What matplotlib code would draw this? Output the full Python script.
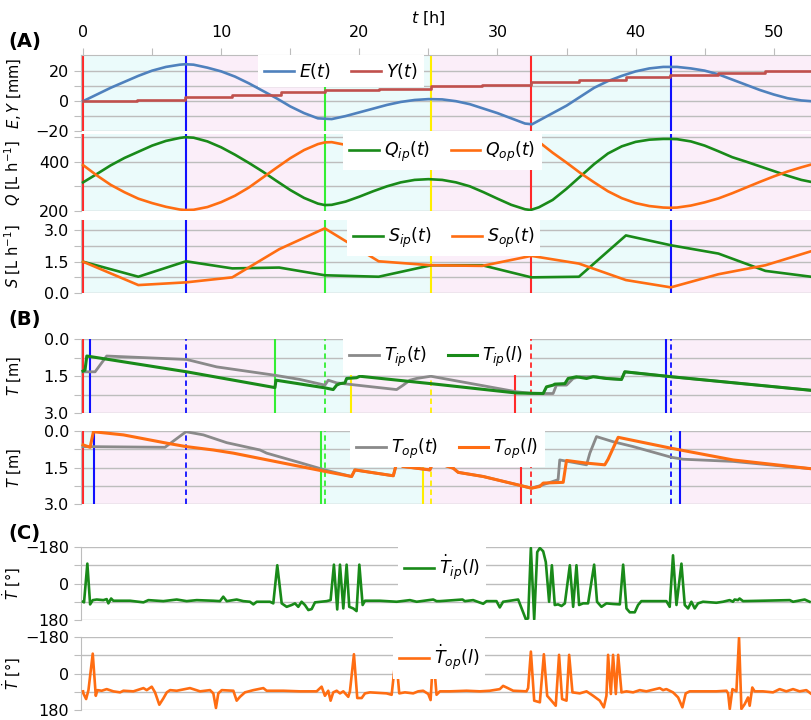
import numpy as np
import matplotlib.pyplot as plt

# ---------------- data ----------------
t_E = [0, 1, 2, 3, 4, 5, 6, 7, 7.4, 8, 9, 10, 11, 12, 13, 14, 15, 16, 17, 18, 19, 20,
       21, 22, 23, 24, 25, 26, 27, 28, 29, 30, 31, 32, 32.5, 33, 34, 35, 36, 37, 38, 39,
       40, 41, 42, 43, 44, 45, 46, 47, 48, 49, 50, 51, 52, 52.7]
E_t = [0, 4.5, 9, 13, 17, 20.5, 23, 24.5, 24.8, 24.5, 22.5, 20, 16.5, 12, 7, 2, -3.5,
       -8, -11.5, -12, -10, -7.5, -5, -2.5, -0.5, 0.8, 1.4, 1.2, 0, -2, -5, -8, -11.5,
       -15, -15.5, -13, -8, -3, 3, 9, 13.5, 17, 20, 22, 23, 23, 22, 20.5, 18, 14.5, 11,
       7.5, 4.5, 2, 0.5, 0]

t_Y = [0, 3.9, 7.4, 10.8, 14.3, 17.5, 21.4, 25.2, 28.9, 32.4, 35.9, 39.3, 42.5, 46.0, 49.4, 52.7]
Y_t = [0, 1, 2.5, 4, 6, 7.5, 8.5, 10, 11, 13, 14.5, 16, 17.5, 19, 20.5, 20.5]

t_Q = [0, 1, 2, 3, 4, 5, 6, 7, 7.4, 8, 9, 10, 11, 12, 13, 14, 15, 16, 17, 17.5, 18, 19,
       20, 21, 22, 23, 24, 25, 26, 27, 28, 29, 30, 31, 32, 32.4, 33, 34, 35, 36, 37, 38,
       39, 40, 41, 42, 42.5, 43, 44, 45, 46, 47, 48, 49, 50, 51, 52, 52.7]
Q_ip = [316, 350, 385, 415, 440, 465, 484, 496, 499, 497, 482, 458, 428, 395, 360, 322,
        285, 253, 230, 224, 225, 238, 258, 280, 300, 316, 326, 329, 326, 316, 300, 276,
        250, 225, 207, 204, 215, 245, 290, 340, 390, 433, 462, 480, 489, 492, 492, 491,
        482, 465, 442, 418, 400, 381, 362, 343, 326, 318]
Q_op = [386, 344, 306, 276, 250, 232, 217, 206, 204, 205, 216, 236, 262, 295, 335, 375,
        414, 447, 471, 478, 479, 468, 448, 425, 405, 389, 380, 377, 380, 390, 405, 425,
        446, 470, 492, 500, 480, 436, 396, 354, 316, 280, 252, 232, 220, 214, 213, 214,
        222, 235, 251, 272, 295, 318, 340, 360, 377, 388]

t_S = [0, 4.0, 7.45, 10.8, 14.2, 17.5, 21.4, 25.2, 28.9, 32.45, 35.9, 39.3, 42.55, 46.0, 49.4, 52.7]
S_ip = [1.5, 0.78, 1.52, 1.18, 1.22, 0.85, 0.78, 1.33, 1.33, 0.75, 0.78, 2.76, 2.29, 1.89, 1.06, 0.78]
S_op = [1.5, 0.38, 0.51, 0.75, 2.1, 3.1, 1.52, 1.33, 1.3, 1.78, 1.41, 0.62, 0.27, 0.9, 1.33, 2.0]

T_ip_t = [(0, 1.33), (0.87, 1.33), (1.71, 0.69), (7.5, 0.83), (9.67, 1.13), (13.89, 1.47),
          (15.7, 1.64), (17.51, 1.87), (17.75, 1.67), (18.36, 1.78), (22.7, 2.05),
          (23.18, 1.87), (23.66, 1.67), (24.14, 1.60), (25.18, 1.51), (31.38, 2.14),
          (32.58, 2.21), (34.03, 2.21), (34.27, 1.87), (35.0, 1.87), (35.48, 1.60),
          (35.96, 1.53), (37.17, 1.53), (37.89, 1.60), (38.98, 1.64), (39.22, 1.33),
          (42.59, 1.53), (52.7, 2.08)]
T_ip_l = [(0, 1.30), (0.14, 1.26), (0.27, 0.69), (7.5, 1.33), (13.89, 1.97), (13.97, 1.67),
          (17.51, 1.98), (18.11, 2.05), (18.36, 1.87), (18.6, 1.81), (18.96, 1.78),
          (19.08, 1.60), (19.8, 1.57), (20.04, 1.51), (25.18, 1.81), (31.38, 2.19),
          (33.31, 2.21), (33.55, 1.94), (34.03, 1.87), (34.15, 1.83), (34.88, 1.81),
          (35.12, 1.60), (35.72, 1.53), (36.45, 1.60), (36.93, 1.53), (37.89, 1.60),
          (38.98, 1.64), (39.22, 1.33), (42.59, 1.53), (52.7, 2.08)]

T_op_t = [(0, 0.64), (5.93, 0.67), (7.45, 0.03), (8.71, 0.16), (10.4, 0.48), (12.81, 0.78),
          (13.29, 0.91), (15.7, 1.30), (17.51, 1.60), (19.44, 1.87), (19.68, 1.60),
          (22.46, 1.84), (22.7, 1.32), (23.18, 1.46), (25.11, 1.60), (25.35, 1.25),
          (26.8, 1.53), (27.16, 1.70), (28.97, 1.87), (31.74, 2.25), (32.46, 2.35),
          (33.07, 2.25), (34.03, 2.07), (34.39, 2.00), (34.51, 1.19), (36.45, 1.39),
          (36.69, 0.91), (37.17, 0.23), (38.37, 0.44), (39.82, 0.64), (42.59, 1.08),
          (43.44, 1.16), (47.06, 1.25), (52.7, 1.55)]
T_op_l = [(0, 0.57), (0.51, 0.67), (0.75, 0.03), (2.92, 0.16), (6.06, 0.50), (7.45, 0.64),
          (9.43, 0.78), (10.88, 0.91), (17.51, 1.66), (19.44, 1.87), (19.68, 1.60),
          (22.46, 1.84), (22.7, 1.32), (23.18, 1.46), (25.11, 1.60), (25.35, 1.25),
          (26.8, 1.53), (27.16, 1.70), (28.97, 1.87), (31.74, 2.25), (32.46, 2.35),
          (33.07, 2.28), (33.31, 2.14), (34.76, 2.11), (35.0, 1.21), (36.45, 1.32),
          (37.77, 1.39), (38.01, 1.16), (38.37, 0.71), (38.74, 0.26), (42.59, 0.71),
          (47.06, 1.19), (52.7, 1.55)]

Tdot_ip = [(0, 90), (0.07, 93), (0.31, -98), (0.51, 103), (0.70, 82), (0.99, 79), (1.47, 82),
           (1.71, 77), (1.83, 98), (2.03, 74), (2.19, 85), (3.40, 85), (4.37, 93), (4.73, 82),
           (5.81, 87), (6.78, 79), (7.50, 87), (8.23, 82), (9.43, 85), (9.91, 87), (10.15, 65),
           (10.40, 87), (11.12, 79), (11.60, 87), (12.08, 90), (12.33, 103), (12.57, 90),
           (13.53, 90), (13.77, 98), (14.06, -90), (14.38, 98), (14.74, 115), (15.10, 106),
           (15.34, 98), (15.58, 115), (15.82, 90), (16.06, 106), (16.31, 131), (16.55, 126),
           (16.79, 93), (17.63, 87), (17.92, 82), (18.16, -93), (18.40, 128), (18.60, -93),
           (18.84, 123), (19.08, -93), (19.27, 115), (19.56, 123), (19.80, 136), (20.00, -93),
           (20.24, 106), (20.41, 85), (21.49, 85), (22.70, 90), (23.66, 82), (24.15, 90),
           (25.35, 79), (25.59, 87), (25.83, 87), (27.47, 79), (27.64, 87), (28.24, 82),
           (28.97, 100), (29.21, 87), (29.93, 87), (30.17, 118), (30.41, 90), (31.50, 79),
           (32.06, 177), (32.22, 172), (32.42, -175), (32.66, 177), (32.88, -155),
           (33.07, -175), (33.31, -159), (33.50, -106), (33.74, 90), (33.94, -90),
           (34.15, 106), (34.39, 103), (34.64, 111), (34.88, 98), (35.24, -90), (35.48, 115),
           (35.72, -90), (35.91, 106), (36.20, 98), (36.56, 98), (37.00, -93), (37.21, 90),
           (37.53, 115), (37.89, 98), (38.37, 101), (38.86, 103), (39.10, -93), (39.34, 123),
           (39.58, 142), (39.94, 142), (40.18, 106), (40.42, 87), (42.23, 87), (42.47, 115),
           (42.71, -139), (42.96, 106), (43.32, -98), (43.56, 106), (43.80, 123), (44.04, 90),
           (44.28, 123), (44.52, 98), (44.88, 90), (45.85, 95), (46.33, 90), (46.81, 82),
           (47.05, 90), (47.17, 79), (47.41, 82), (47.53, 74), (47.78, 87), (51.16, 82),
           (51.40, 90), (52.24, 79), (52.60, 90)]

Tdot_op = [(0, 88), (0.02, 98), (0.22, 126), (0.39, 82), (0.70, -98), (0.92, 110), (1.04, 82),
           (1.35, 85), (1.71, 77), (2.19, 88), (2.68, 93), (2.92, 85), (3.64, 88), (4.37, 72),
           (4.61, 82), (4.97, 65), (5.21, 93), (5.52, 154), (5.81, 123), (6.06, 93), (6.30, 82),
           (6.78, 85), (7.74, 72), (8.47, 88), (9.19, 82), (9.43, 98), (9.62, 170), (9.79, 98),
           (10.04, 82), (10.88, 85), (11.12, 134), (11.36, 115), (11.72, 93), (12.33, 82),
           (13.05, 72), (13.29, 85), (14.50, 85), (15.70, 88), (16.91, 88), (17.27, 65),
           (17.51, 110), (17.75, 85), (17.92, 134), (18.11, 93), (18.36, 85), (18.60, 98),
           (18.84, 88), (19.20, 115), (19.32, 88), (19.61, -95), (19.85, 121), (20.17, 121),
           (20.41, 98), (20.77, 93), (21.97, 98), (22.34, 105), (22.65, -92), (22.89, 98),
           (23.30, 93), (23.90, 98), (24.26, 88), (24.62, 85), (24.99, 101), (25.16, 131),
           (25.35, -95), (25.59, 105), (25.83, 88), (26.56, 88), (27.76, 85), (28.73, 88),
           (29.45, 85), (30.17, 77), (30.41, 61), (30.66, 69), (31.14, 85), (32.10, 88),
           (32.22, 72), (32.42, -108), (32.66, 134), (33.07, 142), (33.36, -95), (33.60, 110),
           (33.91, 134), (34.22, 159), (34.46, -92), (34.68, 126), (35.00, 134), (35.19, -92),
           (35.43, 93), (35.96, 98), (36.45, 88), (36.93, 110), (37.41, 134), (37.70, 167),
           (37.89, 110), (38.01, -92), (38.21, 101), (38.37, -92), (38.57, 101), (38.74, -92),
           (38.98, 93), (39.34, 88), (39.82, 93), (40.30, 82), (40.78, 88), (41.75, 72),
           (41.99, 82), (42.23, 77), (42.71, 93), (43.08, 118), (43.39, 167), (43.63, 98),
           (43.92, 88), (44.65, 88), (45.85, 88), (46.58, 85), (46.70, 98), (46.82, 175),
           (47.01, 77), (47.30, 88), (47.49, -177), (47.66, 175), (47.90, 151), (48.14, 118),
           (48.26, 159), (48.45, 69), (48.62, 88), (49.22, 88), (49.95, 93), (50.43, 77),
           (50.91, 88), (51.40, 77), (51.88, 88), (52.36, 82), (52.67, 98)]

# event lines: (time, colour key, dashed?)
events_A = [(0, 'r', False), (7.45, 'b', False), (17.5, 'g', False), (25.2, 'y', False),
            (32.45, 'r', False), (42.55, 'b', False)]
events_B1 = [(0, 'r', False), (0.5, 'b', False), (7.45, 'b', True), (13.9, 'g', False),
             (17.5, 'g', True), (19.4, 'y', False), (25.2, 'y', True), (31.3, 'r', False),
             (32.45, 'r', True), (42.2, 'b', False), (42.55, 'b', True)]
events_B2 = [(0, 'r', False), (0.8, 'b', False), (7.45, 'b', True), (17.2, 'g', False),
             (17.5, 'g', True), (24.6, 'y', False), (25.2, 'y', True), (31.7, 'r', False),
             (32.45, 'r', True), (42.55, 'b', True), (43.2, 'b', False)]

T_END = 52.7
ev_col = {'r': '#ff2a2a', 'b': '#1010ff', 'g': '#33ee33', 'y': '#ffee00'}
C_GREEN = '#198a19'
C_ORANGE = '#ff6d12'
C_GRAY = '#8a8a8a'
C_BLUE = '#4f81bd'
C_RED = '#c0504d'
CYAN = '#ebfbfb'
PINK = '#fbeef9'
GRID = '#bdbdbd'

plt.rcParams['font.family'] = 'DejaVu Sans'
plt.rcParams['mathtext.fontset'] = 'dejavusans'
FS = 11.5
FL = 10.5

fig = plt.figure(figsize=(8.11, 7.2), dpi=100)
W = 811.0
H = 720.0


def make_ax(top_px, bot_px):
    ax = fig.add_axes([81 / W, 1 - bot_px / H, 730 / W, (bot_px - top_px) / H])
    ax.set_xlim(-0.15, T_END)
    for s in ['top', 'right', 'bottom']:
        ax.spines[s].set_visible(False)
    ax.spines['left'].set_color(GRID)
    ax.tick_params(axis='y', colors=GRID, labelcolor='black', labelsize=FS, length=5)
    ax.tick_params(axis='x', bottom=False, labelbottom=False)
    ax.grid(axis='y', color=GRID, lw=1)
    ax.set_axisbelow(True)
    return ax


def ylab(ax, text):
    ax.set_ylabel(text, fontsize=FL)
    ax.yaxis.set_label_coords(-0.079, 0.5)


def shade(ax, events):
    # background bands follow the solid event lines
    solid = [e for e in events if not e[2]]
    for i, (t0, c, _) in enumerate(solid):
        t1 = solid[i + 1][0] if i + 1 < len(solid) else T_END
        col = CYAN if c in ('r', 'g') else PINK
        ax.axvspan(t0, t1, color=col, lw=0, zorder=0)
    for t0, c, dashed in events:
        if dashed:
            ax.axvline(t0, color=ev_col[c], lw=1.3, ls=(0, (3, 2)), zorder=1)
        else:
            ax.axvline(t0, color=ev_col[c], lw=1.5, zorder=1)


def set_yt(ax, ticks, labels):
    ax.set_yticks(ticks)
    ax.set_yticklabels(labels)


def leg(ax, x_px, ncol=2):
    lg = ax.legend(loc='upper left', bbox_to_anchor=((x_px - 81) / 730, 1.0), ncol=ncol,
                   fontsize=12.5, frameon=True, fancybox=False, framealpha=1,
                   edgecolor='none', facecolor='white', handlelength=1.7,
                   handletextpad=0.3, columnspacing=1.2, borderpad=0.35,
                   borderaxespad=0)
    lg.set_zorder(10)


# ---- (A) E, Y ----
ax1 = make_ax(55, 131)
shade(ax1, events_A)
ax1.plot(t_E, E_t, color=C_BLUE, lw=1.9, label='$E(t)$', zorder=3)
ax1.plot(t_Y, Y_t, color=C_RED, lw=1.9, drawstyle='steps-post', label='$Y(t)$', zorder=3)
ax1.set_ylim(-20, 31)
set_yt(ax1, [-20, -10, 0, 10, 20], ['\u221220', '', '0', '', '20'])
ylab(ax1, '$E, Y$ [mm]')
ax1.spines['top'].set_visible(True)
ax1.spines['top'].set_color(GRID)
ax1.xaxis.set_ticks_position('top')
ax1.tick_params(axis='x', top=True, labeltop=True, colors=GRID, labelcolor='black',
                labelsize=FS, length=5, pad=6)
ax1.set_xticks(np.arange(0, 51, 5))
ax1.set_xticklabels([str(v) if v % 10 == 0 else '' for v in range(0, 51, 5)])
leg(ax1, 258)

# ---- Q ----
ax2 = make_ax(134, 211)
shade(ax2, events_A)
ax2.plot(t_Q, Q_ip, color=C_GREEN, lw=1.9, label='$Q_{ip}(t)$', zorder=3)
ax2.plot(t_Q, Q_op, color=C_ORANGE, lw=1.9, label='$Q_{op}(t)$', zorder=3)
ax2.set_ylim(200, 512)
set_yt(ax2, [200, 300, 400, 500], ['200', '', '400', ''])
ylab(ax2, '$Q$ [L h$^{-1}$]')
leg(ax2, 343)

# ---- S ----
ax3 = make_ax(220, 293)
shade(ax3, events_A)
ax3.plot(t_S, S_ip, color=C_GREEN, lw=1.9, label='$S_{ip}(t)$', zorder=3)
ax3.plot(t_S, S_op, color=C_ORANGE, lw=1.9, label='$S_{op}(t)$', zorder=3)
ax3.set_ylim(0, 3.5)
set_yt(ax3, [0, 0.75, 1.5, 2.25, 3.0], ['0.0', '', '1.5', '', '3.0'])
ylab(ax3, '$S$ [L h$^{-1}$]')
leg(ax3, 347)

# ---- (B) T_ip ----
ax4 = make_ax(339, 413)
shade(ax4, events_B1)
a = np.array(T_ip_t).T
ax4.plot(a[0], a[1], color=C_GRAY, lw=2, label='$T_{ip}(t)$', zorder=3)
a = np.array(T_ip_l).T
ax4.plot(a[0], a[1], color=C_GREEN, lw=2.2, label='$T_{ip}(l)$', zorder=4)
ax4.set_ylim(3, 0)
set_yt(ax4, [0, 0.75, 1.5, 2.25, 3.0], ['0.0', '', '1.5', '', '3.0'])
ylab(ax4, '$T$ [m]')
leg(ax4, 343)

# ---- T_op ----
ax5 = make_ax(431, 504)
shade(ax5, events_B2)
a = np.array(T_op_t).T
ax5.plot(a[0], a[1], color=C_GRAY, lw=2, label='$T_{op}(t)$', zorder=3)
a = np.array(T_op_l).T
ax5.plot(a[0], a[1], color=C_ORANGE, lw=2.2, label='$T_{op}(l)$', zorder=4)
ax5.set_ylim(3, 0)
set_yt(ax5, [0, 0.75, 1.5, 2.25, 3.0], ['0.0', '', '1.5', '', '3.0'])
ylab(ax5, '$T$ [m]')
leg(ax5, 350)

# ---- (C) directions ----
ax6 = make_ax(547, 620)
a = np.array(Tdot_ip).T
ax6.plot(a[0], a[1], color=C_GREEN, lw=1.9, label=r'$\dot{T}_{ip}(l)$', zorder=3)
ax6.set_ylim(180, -180)
set_yt(ax6, [-180, -90, 0, 90, 180], ['\u2212180', '', '0', '', '180'])
ylab(ax6, r'$\dot{T}$ [$\degree$]')
leg(ax6, 398, ncol=1)

ax7 = make_ax(637, 710)
a = np.array(Tdot_op).T
ax7.plot(a[0], a[1], color=C_ORANGE, lw=1.9, label=r'$\dot{T}_{op}(l)$', zorder=3)
ax7.set_ylim(180, -180)
set_yt(ax7, [-180, -90, 0, 90, 180], ['\u2212180', '', '0', '', '180'])
ylab(ax7, r'$\dot{T}$ [$\degree$]')
leg(ax7, 393, ncol=1)

fig.text(428 / W, 1 - 18 / H, '$t$ [h]', fontsize=FS, ha='center', va='center')
fig.text(8 / W, 1 - 42 / H, '(A)', fontsize=14, fontweight='bold', va='center')
fig.text(8 / W, 1 - 320 / H, '(B)', fontsize=14, fontweight='bold', va='center')
fig.text(8 / W, 1 - 533 / H, '(C)', fontsize=14, fontweight='bold', va='center')

fig.savefig('out.png', dpi=100)
